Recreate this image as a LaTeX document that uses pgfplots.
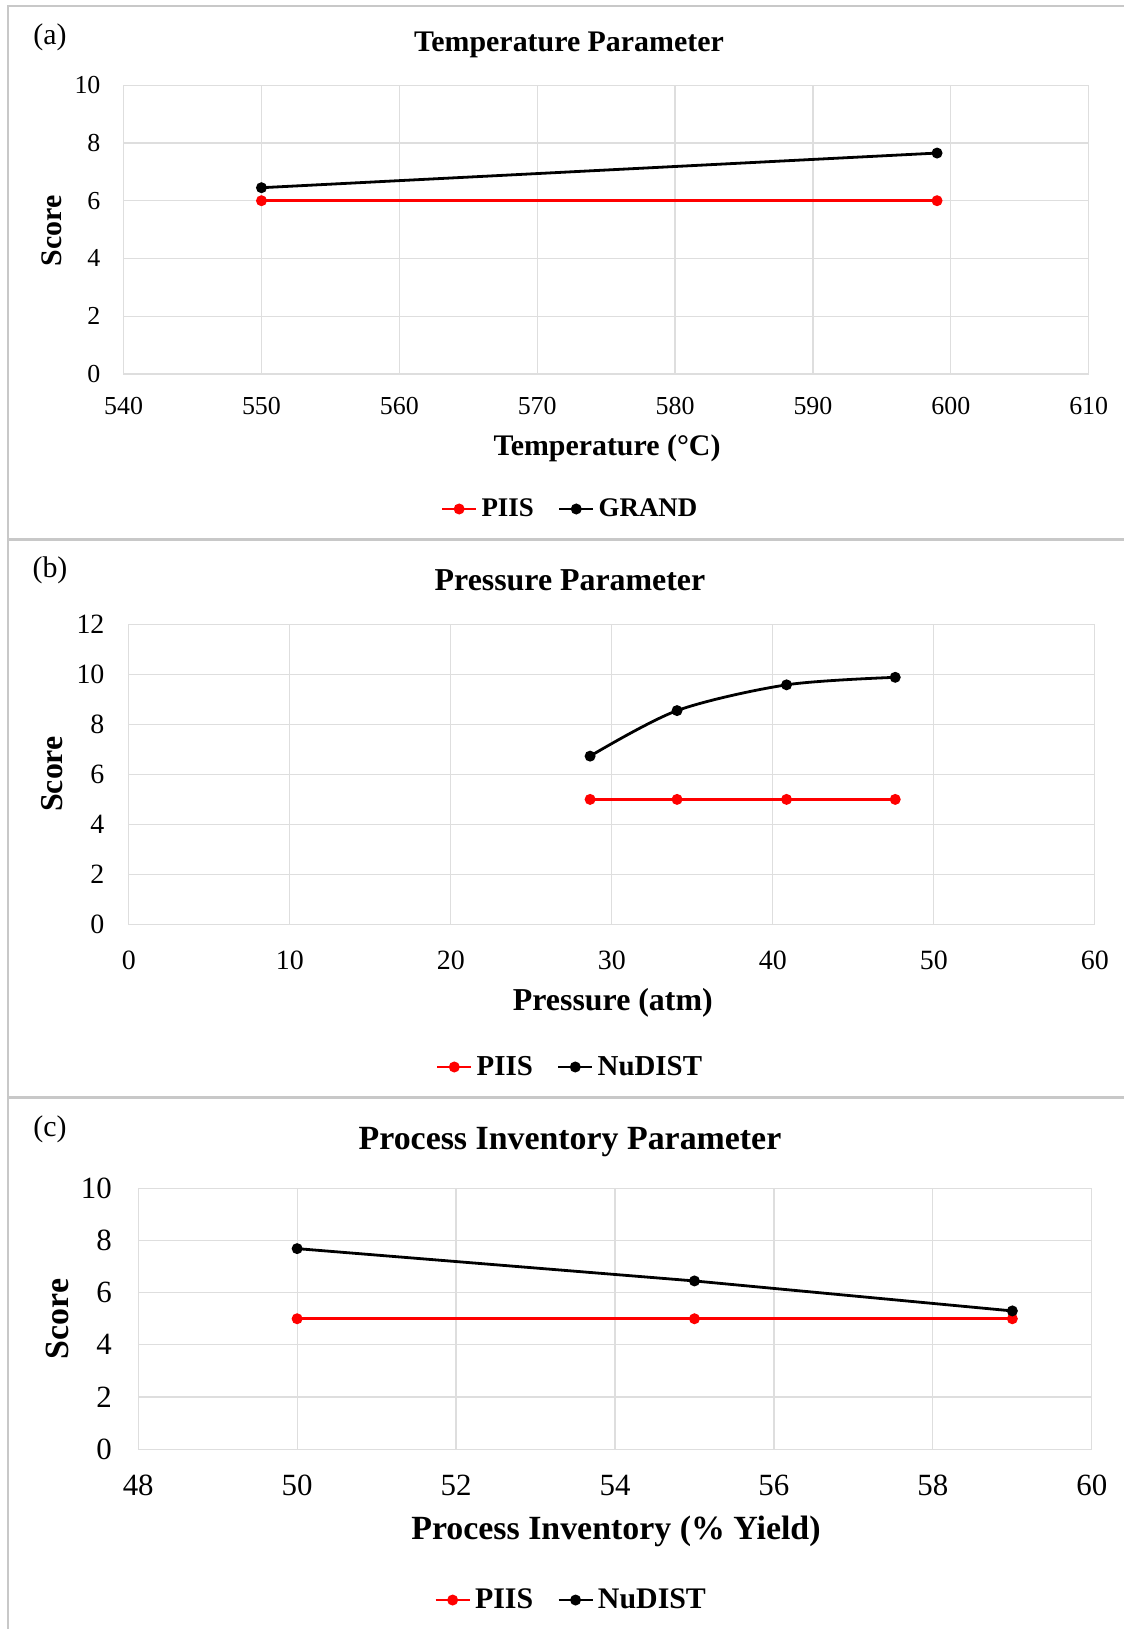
\documentclass[border=0pt]{standalone}
\usepackage{fontspec}
\setmainfont{Liberation Serif}
\usepackage{pgfplots}
\pgfplotsset{compat=1.18}
\definecolor{gridgray}{RGB}{222,222,222}
\definecolor{framegray}{RGB}{200,200,200}
\pgfplotsset{
 panel/.style={
  scale only axis,
  axis line style={gridgray},
  grid=major, grid style={gridgray, line width=0.6bp},
  major tick length=0pt,
  /pgf/number format/assume math mode=true,
  legend columns=2,
  legend style={draw=none, fill=none, anchor=center,
    /tikz/every even column/.append style={column sep=10bp}},
  title style={anchor=center, yshift=-7pt, font=\bfseries},
  xlabel style={anchor=center, font=\bfseries},
  ylabel style={anchor=center, font=\bfseries},
  xticklabel style={anchor=center, inner sep=0pt},
  yticklabel style={anchor=east, inner sep=0pt},
 },
 redser/.style={red, line width=1.4bp, mark=*, mark size=2bp, mark options={solid, fill=red}},
 blkser/.style={black, line width=1.4bp, mark=*, mark size=2bp, mark options={solid, fill=black}},
}
\begin{document}
\begin{tikzpicture}
\path[use as bounding box, fill=white] (0,0) rectangle (562bp,814.5bp);
% panel frames
\draw[framegray, line width=1bp] (4bp,0) -- (4bp,811.5bp) -- (562bp,811.5bp);
\draw[framegray, line width=1.5bp] (4bp,544.5bp) -- (562bp,544.5bp);
\draw[framegray, line width=1.5bp] (4bp,265.5bp) -- (562bp,265.5bp);
\node[font=\fontsize{15}{17}\selectfont] at (25bp,796bp) {(a)};
\node[font=\fontsize{15}{17}\selectfont] at (25bp,529.5bp) {(b)};
\node[font=\fontsize{15}{17}\selectfont] at (25bp,250bp) {(c)};

% ---------- (a) ----------
\begin{axis}[panel,
  at={(61.8bp,627.5bp)}, anchor=south west,
  width=482.55bp, height=144.4bp,
  xmin=540, xmax=610, xtick={540,550,...,610},
  ymin=0, ymax=10, ytick={0,2,...,10},
  tick label style={font=\fontsize{13}{15}\selectfont},
  xticklabel style={yshift=-16bp},
  yticklabel style={xshift=-11.4bp},
  title={Temperature Parameter},
  title style={at={(axis description cs:0.4615,1.1475)}, font=\fontsize{15}{17}\selectfont\bfseries},
  xlabel={Temperature (°C)},
  xlabel style={at={(axis description cs:0.5009,-0.256)}, font=\fontsize{15}{17}\selectfont\bfseries},
  ylabel={Score},
  ylabel style={at={(axis description cs:-0.0742,0.4965)}, font=\fontsize{15}{17}\selectfont\bfseries},
  legend style={at={(axis description cs:0.4636,-0.4675)}, font=\fontsize{13.5}{15}\selectfont\bfseries},
]
\addplot[redser] coordinates {(550,6) (599,6)};
\addlegendentry{PIIS}
\addplot[blkser] coordinates {(550,6.45) (599,7.65)};
\addlegendentry{GRAND}
\end{axis}

% ---------- (b) ----------
\begin{axis}[panel,
  at={(64.4bp,352.25bp)}, anchor=south west,
  width=483.05bp, height=150.1bp,
  xmin=0, xmax=60, xtick={0,10,...,60},
  ymin=0, ymax=12, ytick={0,2,...,12},
  tick label style={font=\fontsize{14}{16}\selectfont},
  xticklabel style={yshift=-17.7bp},
  yticklabel style={xshift=-12bp},
  title={Pressure Parameter},
  title style={at={(axis description cs:0.4567,1.152)}, font=\fontsize{16}{18}\selectfont\bfseries},
  xlabel={Pressure (atm)},
  xlabel style={at={(axis description cs:0.501,-0.26)}, font=\fontsize{16}{18}\selectfont\bfseries},
  ylabel={Score},
  ylabel style={at={(axis description cs:-0.0795,0.501)}, font=\fontsize{16}{18}\selectfont\bfseries},
  legend style={at={(axis description cs:0.4577,-0.4747)}, font=\fontsize{14.5}{16}\selectfont\bfseries},
]
\addplot[redser] coordinates {(28.65,5) (34.05,5) (40.85,5) (47.6,5)};
\addlegendentry{PIIS}
\addplot[blkser, smooth] coordinates {(28.65,6.73) (34.05,8.55) (40.85,9.58) (47.6,9.88)};
\addlegendentry{NuDIST}
\end{axis}

% ---------- (c) ----------
\begin{axis}[panel,
  at={(69.1bp,89.95bp)}, anchor=south west,
  width=476.8bp, height=130.35bp,
  xmin=48, xmax=60, xtick={48,50,...,60},
  ymin=0, ymax=10, ytick={0,2,...,10},
  tick label style={font=\fontsize{15.5}{17}\selectfont},
  xticklabel style={yshift=-18bp},
  yticklabel style={xshift=-13bp},
  title={Process Inventory Parameter},
  title style={at={(axis description cs:0.4528,1.187)}, font=\fontsize{17}{19}\selectfont\bfseries},
  xlabel={Process Inventory (\% Yield)},
  xlabel style={at={(axis description cs:0.501,-0.314)}, font=\fontsize{17}{19}\selectfont\bfseries},
  ylabel={Score},
  ylabel style={at={(axis description cs:-0.0851,0.499)}, font=\fontsize{17}{19}\selectfont\bfseries},
  legend style={at={(axis description cs:0.455,-0.579)}, font=\fontsize{15}{17}\selectfont\bfseries},
]
\addplot[redser] coordinates {(50,5) (55,5) (59,5)};
\addlegendentry{PIIS}
\addplot[blkser] coordinates {(50,7.69) (55,6.45) (59,5.3)};
\addlegendentry{NuDIST}
\end{axis}
\end{tikzpicture}
\end{document}
